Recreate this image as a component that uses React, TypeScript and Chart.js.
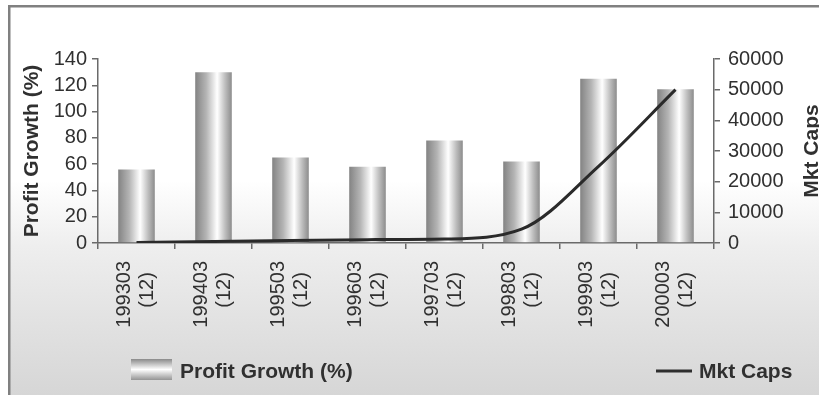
import React, { useEffect, useRef } from "react";
import { Chart, registerables } from "chart.js";

Chart.register(...registerables);

const periods = ["199303", "199403", "199503", "199603", "199703", "199803", "199903", "200003"];
const months = ["(12)", "(12)", "(12)", "(12)", "(12)", "(12)", "(12)", "(12)"];
const profitGrowth = [56, 130, 65, 58, 78, 62, 125, 117];
const mktCaps = [200, 500, 800, 1100, 1300, 4500, 25000, 50000];
const leftTicks = { min: 0, max: 140, step: 20 };
const rightTicks = { min: 0, max: 60000, step: 10000 };
const leftTitle = "Profit Growth (%)";
const rightTitle = "Mkt Caps";

const FONT = "'Liberation Sans', Arial, Helvetica, sans-serif";
const TEXT = "#303030";
const AXIS = "#6a6a6a";

const W = 819;
const H = 395;
const AREA = { left: 98, right: 714, top: 59, bottom: 243 };

function barFill(ctx: any) {
  const chart = ctx.chart;
  const xs = chart.scales && chart.scales.x;
  if (!xs || ctx.dataIndex === undefined) return "#b0b0b0";
  const cx = xs.getPixelForValue(ctx.dataIndex);
  const cw = (xs.right - xs.left) / periods.length;
  if (!isFinite(cx) || !isFinite(cw) || cw <= 0) return "#b0b0b0";
  const bw = cw * 0.475;
  const c = chart.ctx;
  const g = c.createLinearGradient(cx - bw / 2, 0, cx + bw / 2, 0);
  g.addColorStop(0, "#838383");
  g.addColorStop(0.3, "#b4b4b4");
  g.addColorStop(0.6, "#ffffff");
  g.addColorStop(0.82, "#bdbdbd");
  g.addColorStop(1, "#8c8c8c");
  return g;
}

const decorPlugin = {
  id: "decor",
  beforeDraw(chart: any) {
    const c = chart.ctx;
    c.save();
    c.fillStyle = "#ffffff";
    c.fillRect(0, 0, W, H);
    const g = c.createLinearGradient(0, 5, 0, H);
    g.addColorStop(0, "#ffffff");
    g.addColorStop(0.45, "#ffffff");
    g.addColorStop(0.62, "#eeeeee");
    g.addColorStop(1, "#d6d6d6");
    c.fillStyle = g;
    c.fillRect(8, 5, W - 8, H - 5);
    c.fillStyle = "#808080";
    c.fillRect(8, 5, W - 8, 2.5);
    c.fillRect(8, 5, 2.5, H - 5);
    c.restore();
  },
  afterDraw(chart: any) {
    const c = chart.ctx;
    const area = chart.chartArea;
    const midY = (area.top + area.bottom) / 2;
    c.save();
    c.fillStyle = TEXT;
    c.font = `bold 21px ${FONT}`;
    c.textAlign = "center";
    c.textBaseline = "alphabetic";
    c.save();
    c.translate(37.5, midY);
    c.rotate(-Math.PI / 2);
    c.fillText(leftTitle, 0, 0);
    c.restore();
    c.save();
    c.translate(818, midY);
    c.rotate(-Math.PI / 2);
    c.fillText(rightTitle, 0, 0);
    c.restore();

    const lg = c.createLinearGradient(0, 359, 0, 380);
    lg.addColorStop(0, "#8a8a8a");
    lg.addColorStop(0.5, "#ffffff");
    lg.addColorStop(1, "#949494");
    c.fillStyle = lg;
    c.fillRect(131, 359, 41, 21);
    c.fillStyle = TEXT;
    c.textAlign = "left";
    c.fillText("Profit Growth (%)", 180, 378);
    c.strokeStyle = "#2e2e2e";
    c.lineWidth = 3;
    c.beginPath();
    c.moveTo(656, 371);
    c.lineTo(692, 371);
    c.stroke();
    c.fillText("Mkt Caps", 699, 378);
    c.restore();
  },
};

export default function App() {
  const ref = useRef<HTMLCanvasElement | null>(null);

  useEffect(() => {
    if (!ref.current) return;
    const labels = periods.map((p, i) => [p, months[i] + "\u00a0\u00a0"]);
    const chart = new Chart(ref.current, {
      type: "bar",
      data: {
        labels,
        datasets: [
          {
            type: "line",
            label: "Mkt Caps",
            data: mktCaps,
            yAxisID: "y2",
            borderColor: "#2a2a2a",
            borderWidth: 3,
            pointRadius: 0,
            cubicInterpolationMode: "monotone",
            fill: false,
            order: 0,
          } as any,
          {
            type: "bar",
            label: "Profit Growth (%)",
            data: profitGrowth,
            yAxisID: "y",
            backgroundColor: barFill,
            borderWidth: 0,
            categoryPercentage: 0.5,
            barPercentage: 0.95,
            order: 1,
          },
        ],
      },
      options: {
        responsive: false,
        animation: false,
        layout: { padding: { top: AREA.top, left: 10, right: 0, bottom: 0 } },
        plugins: {
          legend: { display: false },
          tooltip: { enabled: false },
        },
        scales: {
          x: {
            position: "bottom",
            grid: {
              offset: true,
              drawOnChartArea: false,
              drawTicks: true,
              tickLength: 6,
              color: AXIS,
              lineWidth: 1.5,
            },
            border: { display: true, color: AXIS, width: 1.5 },
            ticks: {
              maxRotation: 90,
              minRotation: 90,
              autoSkip: false,
              padding: 12,
              labelOffset: -11.8,
              color: TEXT,
              font: { family: FONT, size: 20, lineHeight: 1.15 },
            },
            afterFit: (s: any) => {
              s.height = H - AREA.bottom;
            },
          },
          y: {
            position: "left",
            min: leftTicks.min,
            max: leftTicks.max,
            grid: {
              drawOnChartArea: false,
              drawTicks: true,
              tickLength: 6,
              color: AXIS,
              lineWidth: 1.5,
            },
            border: { display: true, color: AXIS, width: 1.5 },
            ticks: {
              stepSize: leftTicks.step,
              autoSkip: false,
              padding: 5,
              color: TEXT,
              font: { family: FONT, size: 20 },
            },
            afterFit: (s: any) => {
              s.width = AREA.left - 10;
            },
          },
          y2: {
            position: "right",
            min: rightTicks.min,
            max: rightTicks.max,
            grid: {
              drawOnChartArea: false,
              drawTicks: true,
              tickLength: 6,
              color: AXIS,
              lineWidth: 1.5,
            },
            border: { display: true, color: AXIS, width: 1.5 },
            ticks: {
              stepSize: rightTicks.step,
              autoSkip: false,
              padding: 8,
              color: TEXT,
              font: { family: FONT, size: 20 },
              callback: (v: any) => String(v),
            },
            afterFit: (s: any) => {
              s.width = W - AREA.right;
            },
          },
        },
      },
      plugins: [decorPlugin],
    });
    return () => chart.destroy();
  }, []);

  return (
    <div style={{ position: "absolute", left: 0, top: 0, width: W, height: H }}>
      <canvas ref={ref} width={W} height={H} style={{ display: "block", width: W, height: H }} />
    </div>
  );
}
